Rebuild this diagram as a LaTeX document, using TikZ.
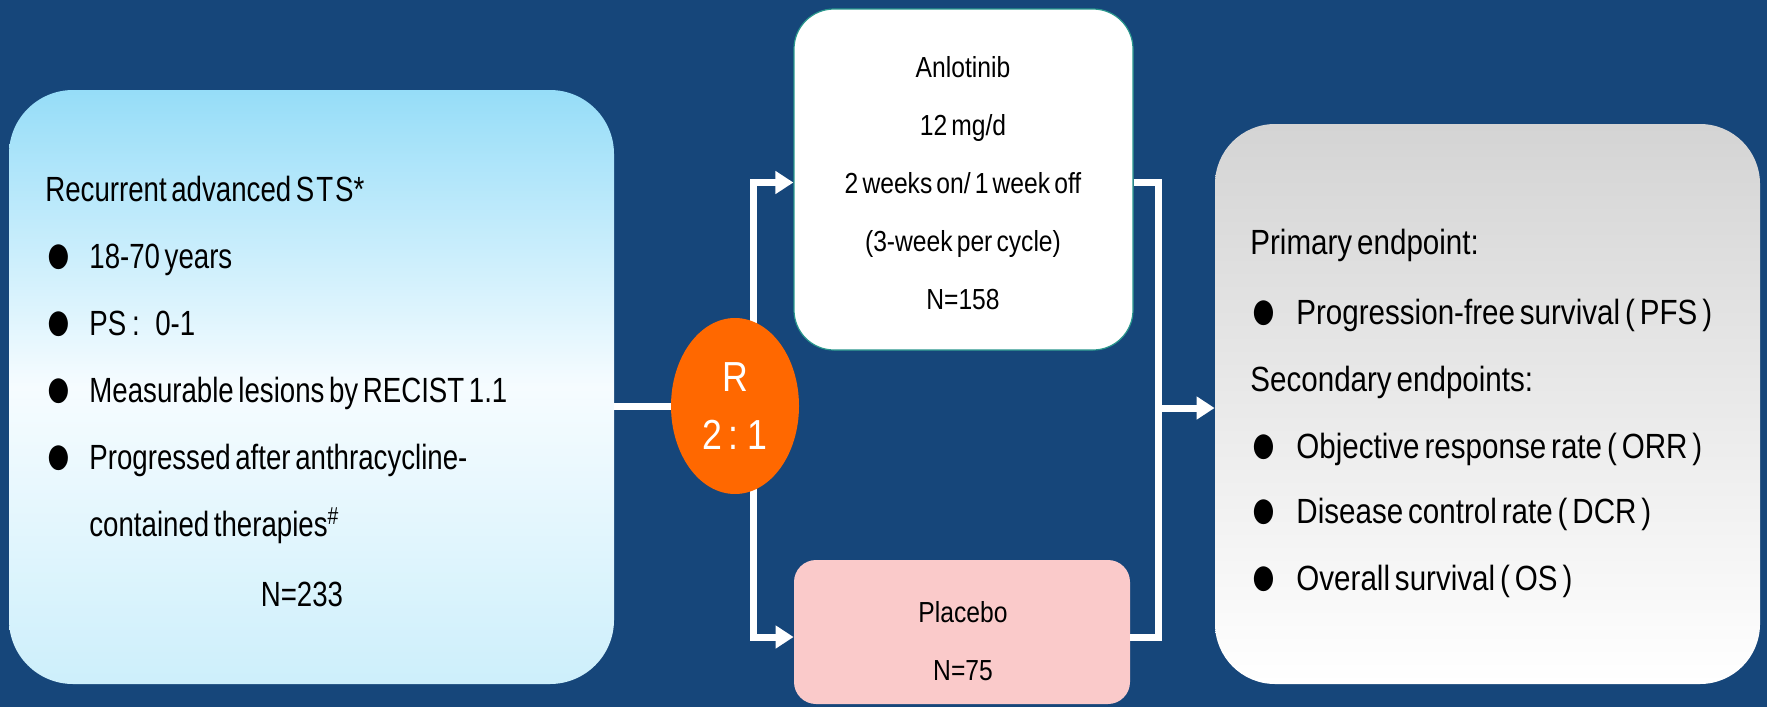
\documentclass[tikz,border=0pt]{standalone}
\usepackage{fontspec}
\setmainfont{Liberation Sans}[FakeStretch=0.79,WordSpace=0.6]
\newfontfamily\midfont{Liberation Sans}[FakeStretch=0.85,WordSpace=0.6]
\newfontfamily\endfont{Liberation Sans}[FakeStretch=0.845,WordSpace=0.6]
\usepackage{tikz}
\usetikzlibrary{arrows.meta,shapes.geometric}

\definecolor{bgblue}{RGB}{22,70,122}
\definecolor{skytop}{RGB}{150,221,248}
\definecolor{skymid}{RGB}{246,252,255}
\definecolor{skybot}{RGB}{205,239,251}
\definecolor{greytop}{RGB}{212,212,212}
\definecolor{randorange}{RGB}{255,104,0}
\definecolor{pbopink}{RGB}{250,202,202}
\definecolor{armedge}{RGB}{40,150,140}

\newcommand{\bigdot}{\raisebox{-2.6pt}{\scalebox{1.6}[1.65]{●}}}
\newcommand{\lbul}{\makebox[22pt][l]{\bigdot}}
\newcommand{\rbul}{\makebox[23pt][l]{\scalebox{0.94}[1]{\bigdot}}}

\tikzset{
	eligbox/.style={rounded corners=32pt, top color=skytop, bottom color=skybot, middle color=skymid, minimum width=302.5pt, minimum height=297pt, inner sep=0pt},
	endbox/.style={rounded corners=30pt, top color=greytop, bottom color=white, minimum width=272.5pt, minimum height=280pt, inner sep=0pt},
	armbox/.style={rounded corners=20pt, fill=white, draw=armedge, line width=0.6pt, minimum width=169.5pt, minimum height=170.5pt, inner sep=0pt},
	pbobox/.style={rounded corners=11pt, fill=pbopink, minimum width=168pt, minimum height=72pt, inner sep=0pt},
	randcirc/.style={ellipse, fill=randorange, text=white, minimum width=64pt, minimum height=88pt, inner sep=0pt, align=center, font=\midfont\fontsize{21}{29}\selectfont},
	bigtxt/.style={font=\fontsize{17.5}{33.5}\selectfont, align=left, inner sep=0pt},
	endtxt/.style={font=\endfont\fontsize{17.5}{33.5}\selectfont, inner sep=0pt, anchor=base west},
	midtxt/.style={font=\midfont\fontsize{14.5}{29}\selectfont, align=center, inner sep=0pt},
	conn/.style={draw=white, line width=3.5pt},
	tip/.style={-{Triangle[length=9pt,width=11pt]}}
}

\begin{document}
\begin{tikzpicture}[x=0.5pt,y=-0.5pt]
	\fill[bgblue] (0,0) rectangle (1767,707);
	\useasboundingbox (0,0) rectangle (1767,707);
	
	\node[eligbox] (elig) at (311.5,387) {};
	\node[armbox] (arm) at (963.5,179.5) {};
	\node[pbobox] (pbo) at (962,632) {};
	\node[endbox] (endp) at (1487.5,404) {};
	
	\node[bigtxt, anchor=west] (elig text) at (45,360) {Recurrent advanced S\kern1pt T\kern1pt S*\\ \lbul 18-70 years\\ \lbul PS\,:\;\,0-1\\ \lbul Measurable lesions by RECIST 1.1\\ \lbul Progressed after anthracycline-\\ \hspace*{22pt}contained therapies\textsuperscript{\#}};
	\node[bigtxt] (elig n) at (302,594) {N=233};
	
	\node[midtxt] (arm text) at (963,183) {Anlotinib\\12 mg/d\\2 weeks on/ 1 week off\\(3-week per cycle)\\N=158};
	\node[midtxt] (pbo text) at (963,641) {Placebo\\N=75};
	
	\node[endtxt] (endp1) at (1250,254) {Primary endpoint:};
	\node[endtxt] (endp2) at (1250,324.5) {\rbul Progression-free survival ( PFS )};
	\node[endtxt] (endp3) at (1250,391.5) {Secondary endpoints:};
	\node[endtxt] (endp4) at (1250,458.5) {\rbul Objective response rate ( ORR )};
	\node[endtxt] (endp5) at (1250,523.5) {\rbul Disease control rate ( DCR )};
	\node[endtxt] (endp6) at (1250,590) {\rbul Overall survival ( OS )};
	
	\coordinate (split) at (753,406);
	\coordinate (merge) at (1158,408);
	\coordinate (arm in) at ([yshift=-1.5pt]arm.west);
	\coordinate (arm out) at ([yshift=-1.5pt]arm.east);
	\coordinate (pbo in) at ([yshift=-2.5pt]pbo.west);
	\coordinate (pbo out) at ([yshift=-2.5pt]pbo.east);
	\draw[conn] (elig.east |- split) -- (split);
	\draw[conn,tip] (split) |- (arm in);
	\draw[conn,tip] (split) |- (pbo in);
	\draw[conn] (arm out) -| (merge) |- (pbo out);
	\draw[conn,tip] (merge) -- (endp.west |- merge);
	
	\node[randcirc] (rand) at (735,406) {R\\2 : 1};
\end{tikzpicture}
\end{document}
